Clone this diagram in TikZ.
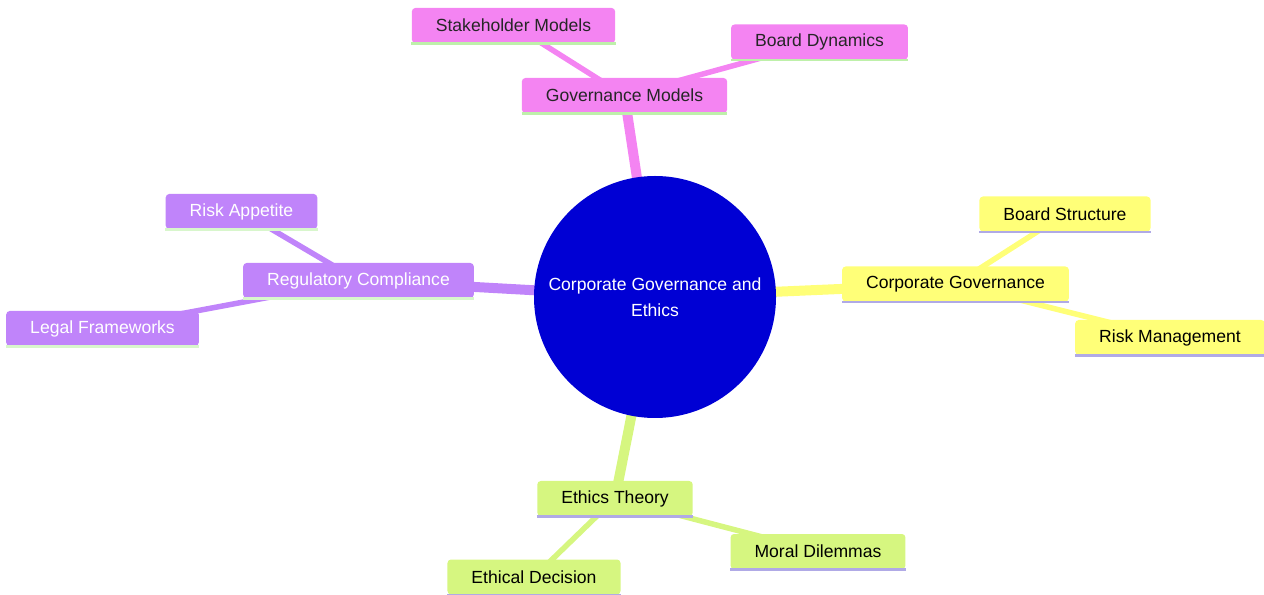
\documentclass[tikz,border=0pt]{standalone}
\usepackage{fontspec}
\setmainfont{Liberation Sans}
\usetikzlibrary{backgrounds}
\definecolor{pinkNode}{RGB}{244,132,242}
\definecolor{purpleNode}{RGB}{192,132,250}
\definecolor{yellowNode}{RGB}{255,255,120}
\definecolor{greenNode}{RGB}{214,246,128}
\definecolor{centerBlue}{RGB}{0,0,212}
\definecolor{greenLine}{RGB}{190,240,170}
\definecolor{lavenderLine}{RGB}{176,170,230}
\begin{document}
\begin{tikzpicture}[
    box/.style={rectangle, rounded corners=2pt, minimum height=0.7cm, inner xsep=0.48cm, font=\fontsize{10}{12}\selectfont},
    pinkBox/.style={box, fill=pinkNode, text=black!85},
    purpleBox/.style={box, fill=purpleNode, text=white},
    yellowBox/.style={box, fill=yellowNode, text=black},
    greenBox/.style={box, fill=greenNode, text=black},
    mainEdge/.style={line width=0.2cm},
    subEdge/.style={line width=0.11cm},
    underLine/.style={line width=0.05cm}
]
\useasboundingbox (0,0) rectangle (25.28,-11.9);

% centre
\node [circle, fill=centerBlue, minimum size=4.84cm, text=white, align=center, font=\fontsize{10}{15}\selectfont] (centerCircle) at (13.10,-5.94) {Corporate Governance and\\Ethics};

% governance models
\node [pinkBox] (govModels) at (12.49,-1.91) {Governance Models};
\node [pinkBox] (stakeModels) at (10.27,-0.51) {Stakeholder Models};
\node [pinkBox] (boardDyn) at (16.39,-0.84) {Board Dynamics};

% regulatory compliance
\node [purpleBox] (regComp) at (7.17,-5.61) {Regulatory Compliance};
\node [purpleBox] (riskApp) at (4.83,-4.23) {Risk Appetite};
\node [purpleBox] (legalFw) at (2.05,-6.57) {Legal Frameworks};

% corporate governance
\node [yellowBox] (corpGov) at (19.11,-5.68) {Corporate Governance};
\node [yellowBox] (boardStruct) at (21.30,-4.28) {Board Structure};
\node [yellowBox] (riskMgmt) at (23.40,-6.75) {Risk Management};

% ethics theory
\node [greenBox] (ethicsTh) at (12.30,-9.97) {Ethics Theory};
\node [greenBox] (moralDil) at (16.36,-11.03) {Moral Dilemmas};
\node [greenBox] (ethDec) at (10.68,-11.54) {Ethical Decision};

% underlines
\foreach \n/\c in {govModels/greenLine, stakeModels/greenLine, boardDyn/greenLine,
                   regComp/greenLine!60, riskApp/greenLine!60, legalFw/greenLine!60,
                   corpGov/lavenderLine, boardStruct/lavenderLine, riskMgmt/lavenderLine,
                   ethicsTh/lavenderLine, moralDil/lavenderLine, ethDec/lavenderLine}
    \draw [underLine, \c] (\n.south west) -- (\n.south east);

\begin{scope}[on background layer]
    \draw [mainEdge, pinkNode] (centerCircle.center) -- (govModels.center);
    \draw [subEdge, pinkNode] (govModels.center) -- (stakeModels.center);
    \draw [subEdge, pinkNode] (govModels.center) -- (boardDyn.center);
    \draw [mainEdge, purpleNode] (centerCircle.center) -- (regComp.center);
    \draw [subEdge, purpleNode] (regComp.center) -- (riskApp.center);
    \draw [subEdge, purpleNode] (regComp.center) -- (legalFw.center);
    \draw [mainEdge, yellowNode] (centerCircle.center) -- (corpGov.center);
    \draw [subEdge, yellowNode] (corpGov.center) -- (boardStruct.center);
    \draw [subEdge, yellowNode] (corpGov.center) -- (riskMgmt.center);
    \draw [mainEdge, greenNode] (centerCircle.center) -- (ethicsTh.center);
    \draw [subEdge, greenNode] (ethicsTh.center) -- (moralDil.center);
    \draw [subEdge, greenNode] (ethicsTh.center) -- (ethDec.center);
\end{scope}
\end{tikzpicture}
\end{document}
